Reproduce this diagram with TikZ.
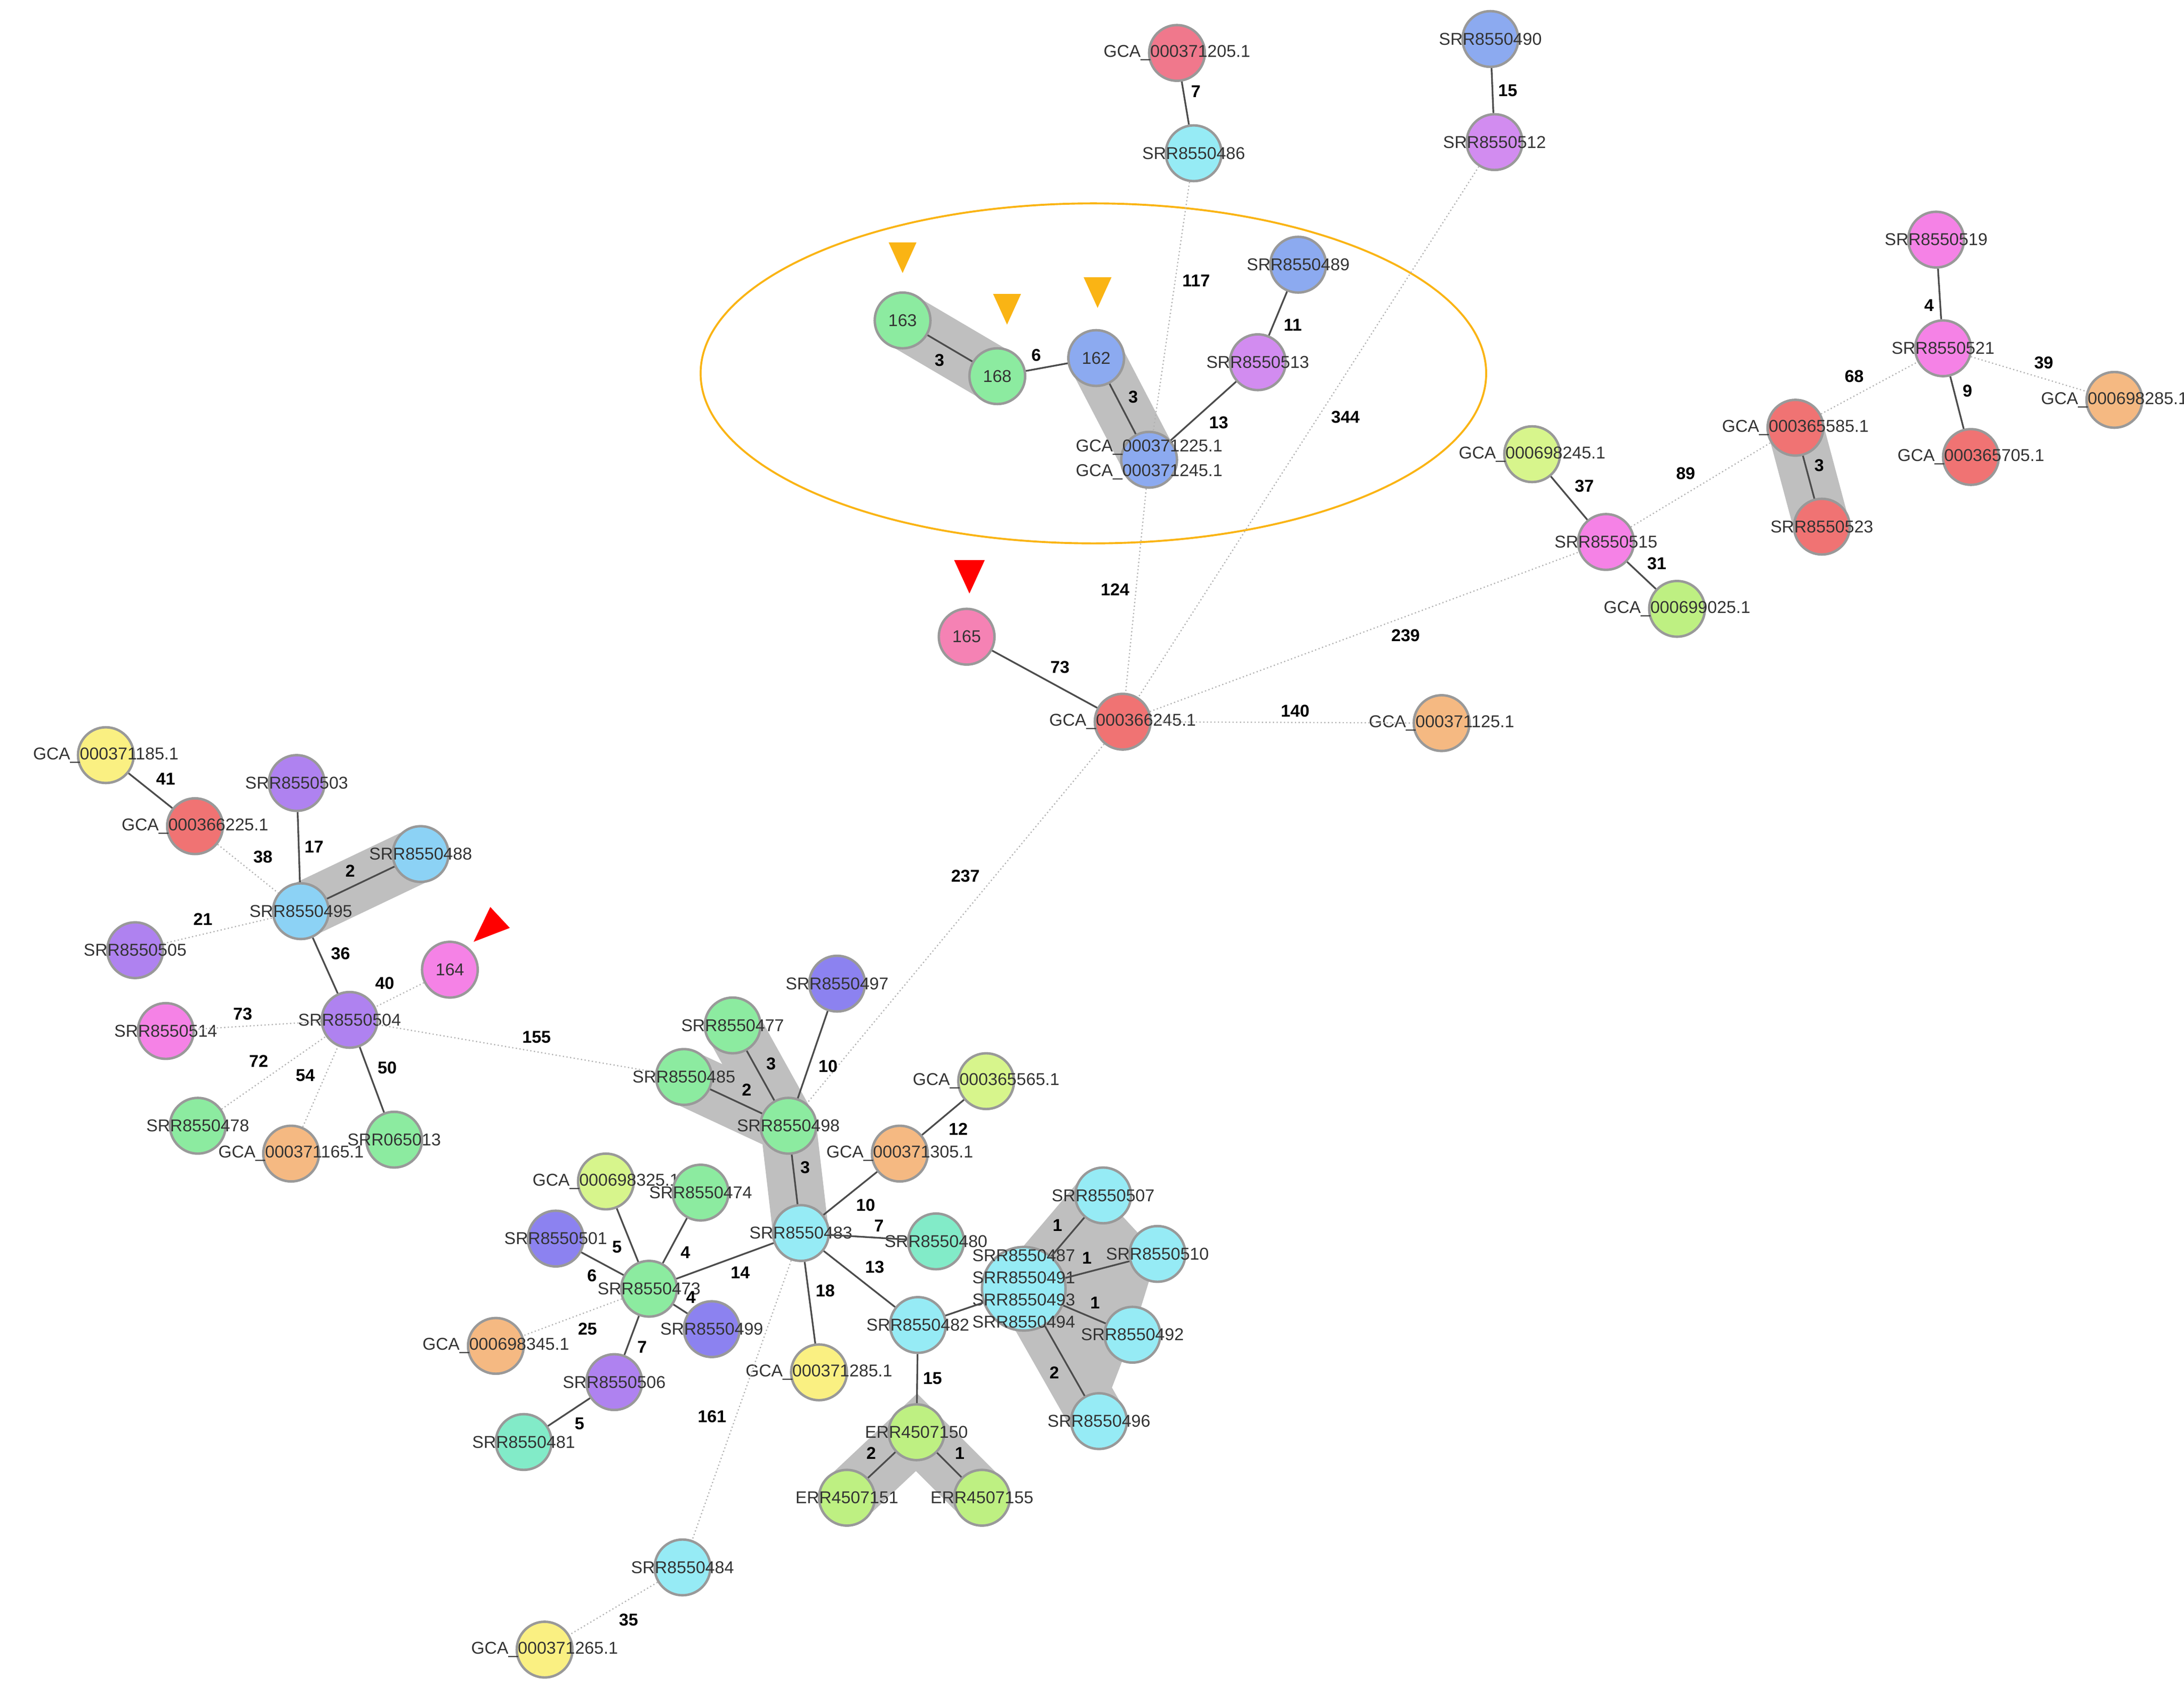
\documentclass[tikz,border=0pt]{standalone}
\usepackage{fontspec}
\setmainfont{Liberation Sans}
\usetikzlibrary{backgrounds}
\definecolor{cPinkred}{RGB}{240,120,140}
\definecolor{cCyan}{RGB}{150,235,245}
\definecolor{cBlue}{RGB}{140,170,240}
\definecolor{cViolet}{RGB}{210,140,240}
\definecolor{cGreen}{RGB}{140,235,160}
\definecolor{cRed}{RGB}{240,115,115}
\definecolor{cOrange}{RGB}{245,185,130}
\definecolor{cYgreen}{RGB}{215,245,140}
\definecolor{cLgreen}{RGB}{190,240,130}
\definecolor{cMagenta}{RGB}{245,130,230}
\definecolor{cPurple}{RGB}{175,130,240}
\definecolor{cLblue}{RGB}{140,210,245}
\definecolor{cYellow}{RGB}{250,240,130}
\definecolor{cPblue}{RGB}{140,130,240}
\definecolor{cTeal}{RGB}{130,235,200}
\definecolor{cPink}{RGB}{245,130,180}
\definecolor{cTri}{RGB}{250,180,20}
\tikzset{
  nd/.style={circle, draw=gray!80, line width=1pt, minimum size=0.8cm, inner sep=0pt, fill=#1},
  lbl/.style={font=\fontsize{7}{8}\selectfont, text=black!80, inner sep=0pt},
  edge/.style={draw=black!70, line width=0.7pt},
  far/.style={draw=gray!60, line width=0.5pt, densely dotted},
  wt/.style={font=\bfseries\fontsize{7}{8}\selectfont, inner sep=2pt, auto},
  band/.style={line width=0.8cm, line cap=round, draw=gray!50},
}
\begin{document}
\begin{tikzpicture}[x=0.02cm, y=-0.02cm]
  \useasboundingbox (0,0) rectangle (1568,1222);

  % top part
  \node[nd=cPinkred, label={[lbl]center:GCA\_000371205.1}] (g205) at (845,38) {};
  \node[nd=cCyan, label={[lbl]center:SRR8550486}] (s486) at (857,110) {};
  \node[nd=cBlue, label={[lbl]center:SRR8550490}] (s490) at (1070,28) {};
  \node[nd=cViolet, label={[lbl]center:SRR8550512}] (s512) at (1073,102) {};
  \node[nd=cGreen, label={[lbl]center:163}] (n163) at (648,230) {};
  \node[nd=cGreen, label={[lbl]center:168}] (n168) at (716,270) {};
  \node[nd=cBlue, label={[lbl]center:162}] (n162) at (787,257) {};
  \node[nd=cBlue, label={[lbl,align=center]center:GCA\_000371225.1\\[2pt]GCA\_000371245.1}] (g225) at (825,330) {};
  \node[nd=cBlue, label={[lbl]center:SRR8550489}] (s489) at (932,190) {};
  \node[nd=cViolet, label={[lbl]center:SRR8550513}] (s513) at (903,260) {};
  \node[nd=cPink, label={[lbl]center:165}] (n165) at (694,457) {};
  \node[nd=cRed, label={[lbl]center:GCA\_000366245.1}] (g6245) at (806,518) {};
  \node[nd=cOrange, label={[lbl]center:GCA\_000371125.1}] (g125) at (1035,519) {};
  \node[nd=cMagenta, label={[lbl]center:SRR8550515}] (s515) at (1153,389) {};
  \node[nd=cYgreen, label={[lbl]center:GCA\_000698245.1}] (g8245) at (1100,326) {};
  \node[nd=cLgreen, label={[lbl]center:GCA\_000699025.1}] (g025) at (1204,437) {};
  \node[nd=cRed, label={[lbl]center:GCA\_000365585.1}] (g585) at (1289,307) {};
  \node[nd=cRed, label={[lbl]center:SRR8550523}] (s523) at (1308,378) {};
  \node[nd=cMagenta, label={[lbl]center:SRR8550521}] (s521) at (1395,250) {};
  \node[nd=cMagenta, label={[lbl]center:SRR8550519}] (s519) at (1390,172) {};
  \node[nd=cOrange, label={[lbl]center:GCA\_000698285.1}] (g285) at (1518,287) {};
  \node[nd=cRed, label={[lbl]center:GCA\_000365705.1}] (g705) at (1415,328) {};

  % left cluster
  \node[nd=cYellow, label={[lbl]center:GCA\_000371185.1}] (g185) at (76,542) {};
  \node[nd=cRed, label={[lbl]center:GCA\_000366225.1}] (g6225) at (140,593) {};
  \node[nd=cPurple, label={[lbl]center:SRR8550503}] (s503) at (213,562) {};
  \node[nd=cLblue, label={[lbl]center:SRR8550488}] (s488) at (302,613) {};
  \node[nd=cLblue, label={[lbl]center:SRR8550495}] (s495) at (216,654) {};
  \node[nd=cPurple, label={[lbl]center:SRR8550505}] (s505) at (97,682) {};
  \node[nd=cMagenta, label={[lbl]center:164}] (n164) at (323,696) {};
  \node[nd=cPurple, label={[lbl]center:SRR8550504}] (s504) at (251,732) {};
  \node[nd=cMagenta, label={[lbl]center:SRR8550514}] (s514) at (119,740) {};
  \node[nd=cGreen, label={[lbl]center:SRR8550478}] (s478) at (142,808) {};
  \node[nd=cOrange, label={[lbl]center:GCA\_000371165.1}] (g165) at (209,828) {};
  \node[nd=cGreen, label={[lbl]center:SRR065013}] (s013) at (283,818) {};

  % central cluster
  \node[nd=cPblue, label={[lbl]center:SRR8550497}] (s497) at (601,706) {};
  \node[nd=cGreen, label={[lbl]center:SRR8550477}] (s477) at (526,736) {};
  \node[nd=cGreen, label={[lbl]center:SRR8550485}] (s485) at (491,773) {};
  \node[nd=cGreen, label={[lbl]center:SRR8550498}] (s498) at (566,808) {};
  \node[nd=cYgreen, label={[lbl]center:GCA\_000365565.1}] (g565) at (708,776) {};
  \node[nd=cOrange, label={[lbl]center:GCA\_000371305.1}] (g305) at (646,828) {};
  \node[nd=cCyan, label={[lbl]center:SRR8550483}] (s483) at (575,885) {};
  \node[nd=cTeal, label={[lbl]center:SRR8550480}] (s480) at (672,891) {};
  \node[nd=cYgreen, label={[lbl]center:GCA\_000698325.1}] (g325) at (435,848) {};
  \node[nd=cGreen, label={[lbl]center:SRR8550474}] (s474) at (503,856) {};
  \node[nd=cPblue, label={[lbl]center:SRR8550501}] (s501) at (399,889) {};
  \node[nd=cGreen, label={[lbl]center:SRR8550473}] (s473) at (466,925) {};
  \node[nd=cPblue, label={[lbl]center:SRR8550499}] (s499) at (511,954) {};
  \node[nd=cOrange, label={[lbl]center:GCA\_000698345.1}] (g345) at (356,966) {};
  \node[nd=cPurple, label={[lbl]center:SRR8550506}] (s506) at (441,992) {};
  \node[nd=cTeal, label={[lbl]center:SRR8550481}] (s481) at (376,1035) {};
  \node[nd=cYellow, label={[lbl]center:GCA\_000371285.1}] (g1285) at (588,985) {};
  \node[nd=cCyan, label={[lbl]center:SRR8550482}] (s482) at (659,951) {};
  \node[nd=cCyan, minimum size=1.2cm, label={[lbl,align=center]center:SRR8550487\\[1pt]SRR8550491\\[1pt]SRR8550493\\[1pt]SRR8550494}] (big) at (735,925) {};
  \node[nd=cCyan, label={[lbl]center:SRR8550507}] (s507) at (792,858) {};
  \node[nd=cCyan, label={[lbl]center:SRR8550510}] (s510) at (831,900) {};
  \node[nd=cCyan, label={[lbl]center:SRR8550492}] (s492) at (813,958) {};
  \node[nd=cCyan, label={[lbl]center:SRR8550496}] (s496) at (789,1020) {};
  \node[nd=cLgreen, label={[lbl]center:ERR4507150}] (e150) at (658,1028) {};
  \node[nd=cLgreen, label={[lbl]center:ERR4507151}] (e151) at (608,1075) {};
  \node[nd=cLgreen, label={[lbl]center:ERR4507155}] (e155) at (705,1075) {};
  \node[nd=cCyan, label={[lbl]center:SRR8550484}] (s484) at (490,1125) {};
  \node[nd=cYellow, label={[lbl]center:GCA\_000371265.1}] (g265) at (391,1184) {};

  % grey bands
  \begin{pgfonlayer}{background}
    \draw[band] (n163.center) -- (n168.center);
    \draw[band] (n162.center) -- (g225.center);
    \draw[band] (s495.center) -- (s488.center);
    \draw[band] (g585.center) -- (s523.center);
    \draw[band] (s477.center) -- (s498.center) -- (s483.center);
    \draw[band] (s485.center) -- (s498.center);
    \draw[band] (e151.center) -- (e150.center) -- (e155.center);
    \fill[gray!50] (big.center) -- (s507.center) -- (s510.center) -- (s492.center) -- (s496.center) -- cycle;
    \draw[band] (big.center) -- (s507.center);
    \draw[band] (big.center) -- (s496.center);
  \end{pgfonlayer}

  % ellipse and markers
  \draw[cTri, line width=0.8pt] (785,268) ellipse [x radius=282, y radius=122];
  \fill[cTri] (638,174) -- (658,174) -- (648,196) -- cycle;
  \fill[cTri] (713,211) -- (733,211) -- (723,233) -- cycle;
  \fill[cTri] (778,199) -- (798,199) -- (788,221) -- cycle;
  \fill[red] (685,402) -- (707,402) -- (696,426) -- cycle;
  \fill[red] (352,651) -- (366,666) -- (340,676) -- cycle;

  % edges
  \draw[edge] (g205) -- node[wt]{7} (s486);
  \draw[edge] (s490) -- node[wt]{15} (s512);
  \draw[far] (s486) -- node[wt, pos=0.35]{117} (g225);
  \draw[far] (s512) -- node[wt, pos=0.45]{344} (g6245);
  \draw[edge] (n163) -- node[wt, swap]{3} (n168);
  \draw[edge] (n168) -- node[wt]{6} (n162);
  \draw[edge] (n162) -- node[wt]{3} (g225);
  \draw[edge] (g225) -- node[wt, swap]{13} (s513);
  \draw[edge] (s513) -- node[wt, swap]{11} (s489);
  \draw[far] (g225) -- node[wt, swap, pos=0.55]{124} (g6245);
  \draw[edge] (n165) -- node[wt]{73} (g6245);
  \draw[far] (g6245) -- node[wt, pos=0.55]{140} (g125);
  \draw[far] (g6245) -- node[wt, swap, pos=0.55]{239} (s515);
  \draw[edge] (s515) -- node[wt, swap]{37} (g8245);
  \draw[edge] (s515) -- node[wt]{31} (g025);
  \draw[far] (s515) -- node[wt]{89} (g585);
  \draw[edge] (g585) -- node[wt]{3} (s523);
  \draw[far] (g585) -- node[wt]{68} (s521);
  \draw[edge] (s521) -- node[wt]{4} (s519);
  \draw[far] (s521) -- node[wt]{39} (g285);
  \draw[edge] (s521) -- node[wt]{9} (g705);
  \draw[far] (g6245) -- node[wt, swap, pos=0.4]{237} (s498);

  \draw[edge] (g185) -- node[wt]{41} (g6225);
  \draw[far] (g6225) -- node[wt]{38} (s495);
  \draw[edge] (s503) -- node[wt]{17} (s495);
  \draw[edge] (s495) -- node[wt]{2} (s488);
  \draw[far] (s505) -- node[wt]{21} (s495);
  \draw[edge] (s495) -- node[wt]{36} (s504);
  \draw[far] (n164) -- node[wt, swap]{40} (s504);
  \draw[far] (s514) -- node[wt]{73} (s504);
  \draw[far] (s478) -- node[wt]{72} (s504);
  \draw[far] (g165) -- node[wt]{54} (s504);
  \draw[edge] (s013) -- node[wt, swap]{50} (s504);
  \draw[far] (s504) -- node[wt]{155} (s485);

  \draw[edge] (s497) -- node[wt]{10} (s498);
  \draw[edge] (s477) -- node[wt]{3} (s498);
  \draw[edge] (s485) -- node[wt]{2} (s498);
  \draw[edge] (s498) -- node[wt]{3} (s483);
  \draw[edge] (g565) -- node[wt]{12} (g305);
  \draw[edge] (g305) -- node[wt]{10} (s483);
  \draw[edge] (s483) -- node[wt]{7} (s480);
  \draw[edge] (s483) -- node[wt]{14} (s473);
  \draw[edge] (s483) -- node[wt]{13} (s482);
  \draw[edge] (s483) -- node[wt]{18} (g1285);
  \draw[far] (s483) -- node[wt, swap, pos=0.6]{161} (s484);
  \draw[far] (s484) -- node[wt]{35} (g265);
  \draw[edge] (s473) -- node[wt]{5} (g325);
  \draw[edge] (s473) -- node[wt, swap]{4} (s474);
  \draw[edge] (s473) -- node[wt]{6} (s501);
  \draw[edge] (s473) -- node[wt]{4} (s499);
  \draw[far] (s473) -- node[wt]{25} (g345);
  \draw[edge] (s473) -- node[wt]{7} (s506);
  \draw[edge] (s506) -- node[wt]{5} (s481);
  \draw[edge] (s482) -- (big);
  \draw[edge] (big) -- node[wt]{1} (s507);
  \draw[edge] (big) -- node[wt]{1} (s510);
  \draw[edge] (big) -- node[wt]{1} (s492);
  \draw[edge] (big) -- node[wt, swap]{2} (s496);
  \draw[edge] (s482) -- node[wt]{15} (e150);
  \draw[edge] (e150) -- node[wt, swap]{2} (e151);
  \draw[edge] (e150) -- node[wt]{1} (e155);
\end{tikzpicture}
\end{document}
